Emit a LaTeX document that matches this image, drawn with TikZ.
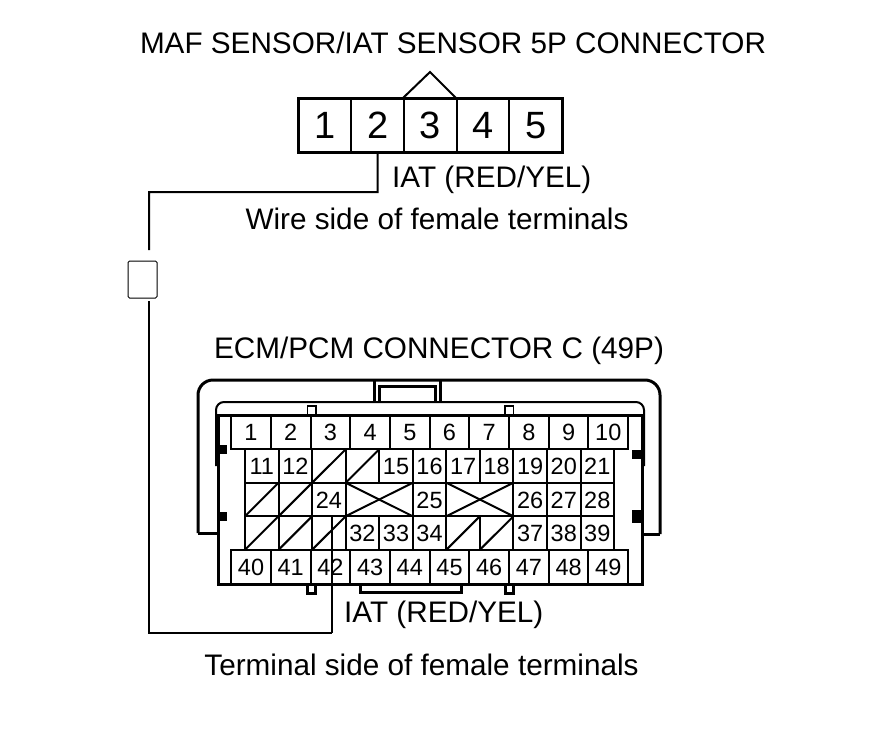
\documentclass[tikz,border=0pt]{standalone}
\usepackage{fontspec}
\setmainfont{Liberation Sans}
\tikzset{
  x=1pt,y=-1pt,
  caption/.style={font=\fontsize{29.7}{32}\selectfont,inner sep=0pt},
  mafcell/.style={draw,line width=1.8pt,minimum width=52.7pt,minimum height=54pt,inner sep=0pt,outer sep=0pt,text height=27pt,text depth=0pt,font=\fontsize{38}{40}\selectfont},
  rowcell/.style={draw,line width=2pt,minimum width=39.7pt,minimum height=34pt,inner sep=0pt,outer sep=0pt,text height=17pt,text depth=0pt,font=\fontsize{23.5}{25}\selectfont},
  midcell/.style={draw,line width=2pt,minimum width=33.55pt,minimum height=33.5pt,inner sep=0pt,outer sep=0pt,text height=17pt,text depth=0pt,font=\fontsize{23.5}{25}\selectfont},
  shell/.style={line width=3pt},
  wire/.style={line width=2pt}
}
\begin{document}
\begin{tikzpicture}
\useasboundingbox (0,0) rectangle (880,736);

\node[caption] (maftitle) at (453,43) {MAF SENSOR/IAT SENSOR 5P CONNECTOR};
\node[caption] (wireside) at (437,219) {Wire side of female terminals};
\node[caption] (ecmtitle) at (439,351) {ECM/PCM CONNECTOR C (49P)};
\node[caption] (termside) at (421.5,665) {Terminal side of female terminals};
\node[caption,anchor=west] (iattop) at (392,180) {IAT (RED/YEL)};
\node[caption,anchor=west] (iatbot) at (344,615) {IAT (RED/YEL)};

% 5P connector
\draw[line width=2pt,line join=miter] (403,98) -- (430,72) -- (456,98);
\foreach \n in {1,...,5}
  \node[mafcell] (maf\n) at ({272.2+52.7*\n},125) {\n};
\draw[shell] (maf1.north west) rectangle (maf5.south east);

% splice box
\node[draw,line width=1pt,rounded corners=1.5pt,minimum width=29pt,minimum height=37pt] (splice) at (142.5,279.5) {};

% ECM shell
\draw[shell,rounded corners=15pt] (198,533) -- (198,380) -- (660,380) -- (660,534);
\draw[shell] (219,533) -- (198,533);
\draw[shell] (642,534) -- (660,534);
\draw[line width=2pt,rounded corners=8pt] (216,466) -- (216,402) -- (644,402) -- (644,466);
\draw[shell] (374,380) -- (374,402);
\draw[shell] (440,380) -- (440,402);
\draw[shell] (379,402) -- (379,386) -- (435,386) -- (435,402);
\draw[line width=1.6pt] (307.5,415) rectangle (316,406);
\draw[line width=1.6pt] (505,415) rectangle (513.5,406);
\draw[shell] (218,415) rectangle (642,584);
\draw[shell] (360,584) -- (360,592) -- (461,592) -- (461,584);
\draw[shell] (307.5,584) rectangle (315.5,593);
\draw[shell] (505,584) rectangle (513,593);
\fill (219,445) rectangle (227,454);
\fill (219,512) rectangle (227,521);
\fill (632,450) rectangle (641,459);
\fill (632,510) rectangle (641,523);

% pin rows
\foreach \n [count=\c from 0] in {1,...,10}
  \node[rowcell] (ecm\n) at ({251+39.7*\c},432) {\n};
\foreach \n [count=\c from 0] in {40,...,49}
  \node[rowcell] (ecm\n) at ({251+39.7*\c},567) {\n};
\foreach \n/\c/\r in {11/0/466,12/1/466,15/4/466,16/5/466,17/6/466,18/7/466,19/8/466,20/9/466,21/10/466,
    24/2/499.5,25/5/499.5,26/8/499.5,27/9/499.5,28/10/499.5,
    32/3/533,33/4/533,34/5/533,37/8/533,38/9/533,39/10/533}
  \node[midcell] (ecm\n) at ({261.8+33.55*\c},\r) {\n};

% unused cells
\foreach \c/\r [count=\i] in {2/466,3/466,0/499.5,1/499.5,0/533,1/533,2/533,6/533,7/533} {
  \node[midcell] (blank\i) at ({261.8+33.55*\c},\r) {};
  \draw[line width=2pt] (blank\i.south west) -- (blank\i.north east);
}
\foreach \c in {3,6} {
  \node[midcell,minimum width=67.1pt] (cross\c) at ({261.8+33.55*(\c+0.5)},499.5) {};
  \draw[line width=2pt] (cross\c.south west) -- (cross\c.north east);
  \draw[line width=2pt] (cross\c.north west) -- (cross\c.south east);
}

% wire
\coordinate (bendtop) at (377.6,192);
\coordinate (wirein) at (149,250);
\coordinate (wireout) at (149,301);
\coordinate (bendbot) at (332,633);
\coordinate (pin42) at (332,515);
\draw[wire] (maf2.south) -- (bendtop) -| (wirein);
\draw[wire] (wireout) |- (bendbot);
\draw[wire] (bendbot) -- (pin42);
\end{tikzpicture}
\end{document}
